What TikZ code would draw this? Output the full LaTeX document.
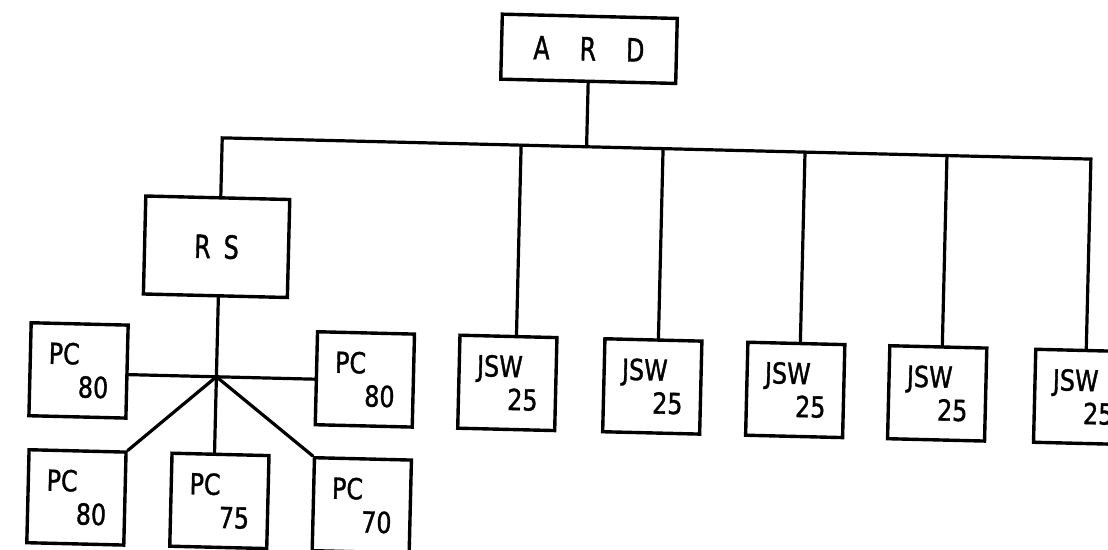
\documentclass[tikz,border=0pt]{standalone}
\usepackage{fontspec}
\newfontfamily\lettering[FakeStretch=0.82,FakeBold=1.2]{DejaVu Sans}
\newfontfamily\biglettering[FakeStretch=0.74,FakeBold=1.2]{DejaVu Sans}
\begin{document}
\begin{tikzpicture}[x=1pt,y=-1pt,
  conn/.style={line width=3.2pt, line cap=round, line join=miter},
  smallbox/.style={draw, line width=3.4pt, inner sep=0pt, minimum width=97pt, minimum height=93pt,
    align=left, font={\lettering\fontsize{29}{33}\selectfont}},
  bigbox/.style={draw, line width=3.4pt, inner sep=0pt,
    font={\biglettering\fontsize{32}{36}\selectfont}}]
\useasboundingbox[fill=white] (0,0) rectangle (1108,549);
\begin{scope}[rotate around={-1.4:(554,274)}, transform shape]
  % top
  \node[bigbox, minimum width=175pt, minimum height=65pt] (ard) at (583.5,48) {A\hspace{30pt}R\hspace{30pt}D};
  \node[bigbox, minimum width=144pt, minimum height=98pt] (rs) at (216,255) {R\hspace{13pt}S};
  % JSW row
  \node[smallbox] (j1) at (510,384) {JSW\\\hspace*{31pt}25};
  \node[smallbox] (j2) at (655,384) {JSW\\\hspace*{31pt}25};
  \node[smallbox] (j3) at (798,384) {JSW\\\hspace*{31pt}25};
  \node[smallbox] (j4) at (940,384) {JSW\\\hspace*{31pt}25};
  \node[smallbox] (j5) at (1086,384) {JSW\\\hspace*{31pt}25};
  % PC boxes
  \node[smallbox] (pl) at (81,382) {PC\\\hspace*{30pt}80};
  \node[smallbox] (pr) at (367.5,384) {PC\\\hspace*{30pt}80};
  \node[smallbox] (bl) at (82,509) {PC\\\hspace*{30pt}80};
  \node[smallbox] (pm) at (225,509) {PC\\\hspace*{30pt}75};
  \node[smallbox] (pb) at (367.5,510) {PC\\\hspace*{30pt}70};
  \coordinate (bus) at (0,146);
  \coordinate (hub) at (219,385);
  % connectors
  \draw[conn] (ard.south) -- (ard.south |- bus);
  \draw[conn] (rs.north -| hub) -- (hub |- bus) -- ([xshift=2pt]j5.north |- bus) -- ([xshift=2pt]j5.north);
  \draw[conn] ([xshift=8pt]j1.north |- bus) -- ([xshift=8pt]j1.north);
  \draw[conn] ([xshift=5pt]j2.north |- bus) -- ([xshift=5pt]j2.north);
  \draw[conn] ([xshift=4pt]j3.north |- bus) -- ([xshift=4pt]j3.north);
  \draw[conn] ([xshift=4pt]j4.north |- bus) -- ([xshift=4pt]j4.north);
  \draw[conn] (rs.south -| hub) -- (hub) -- (pm.north -| hub);
  \draw[conn] (pl.east |- hub) -- (hub) -- (pr.west |- hub);
  \draw[conn] (bl.north east) -- (hub) -- (pb.north west);
\end{scope}
\end{tikzpicture}
\end{document}
